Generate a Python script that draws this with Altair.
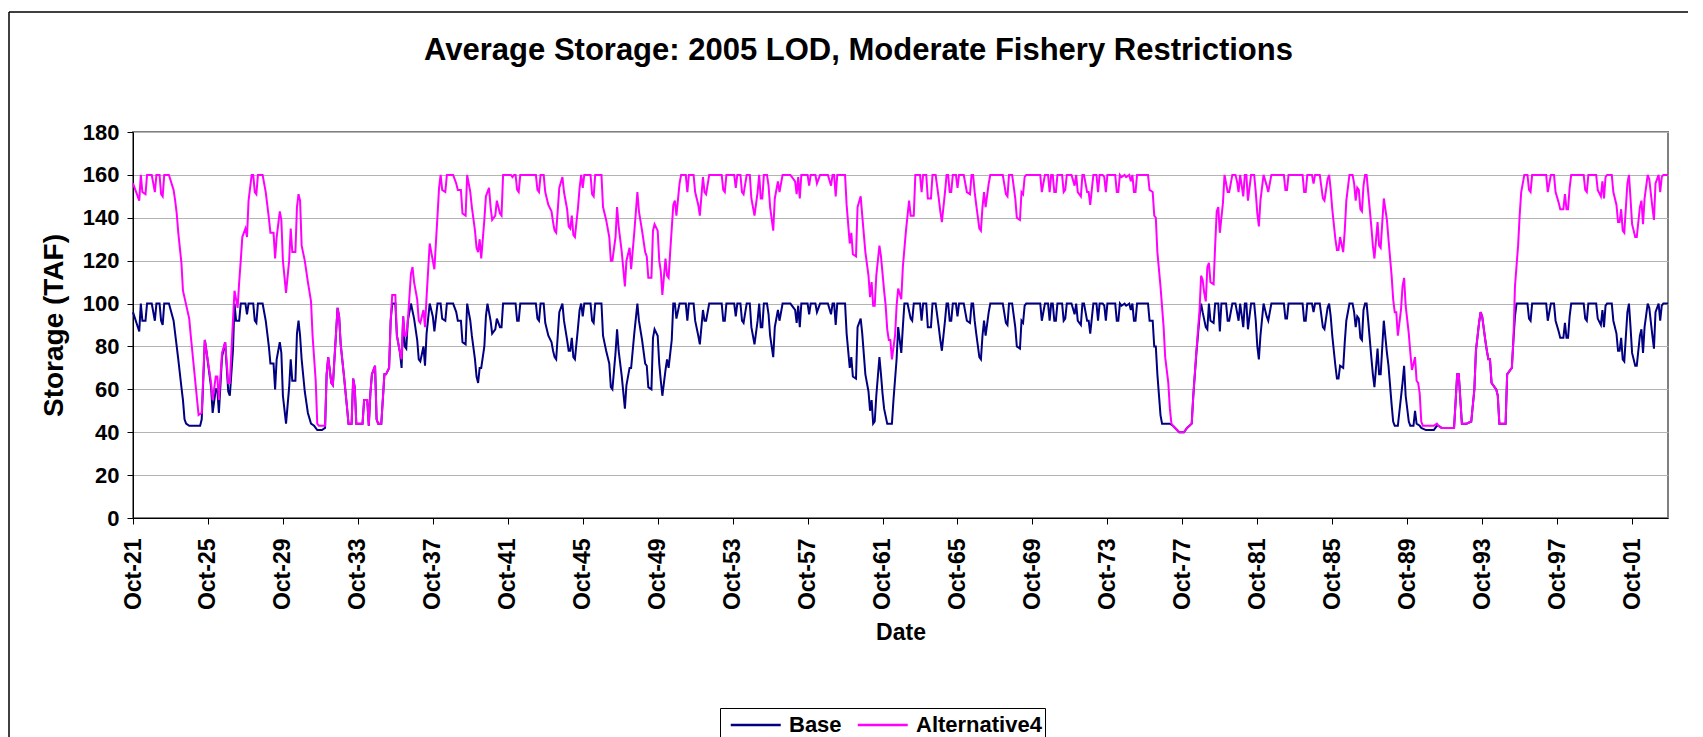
import altair as alt
import pandas as pd

# Month index counted from Oct-1921 (0) to Sep-2003 (983); storage in TAF
base_month = [
    0, 4, 5, 6, 8, 9, 12, 14, 15, 17, 18, 19, 20, 23, 26, 27, 29, 31, 32, 33, 34, 36, 43, 44, 46, 47, 50, 51, 53, 54,
    55, 57, 59, 61, 62, 64, 65, 66, 68, 69, 72, 73, 74, 77, 78, 79, 80, 83, 85, 87, 88, 90, 91, 92, 94, 95, 96, 98, 100, 101,
    102, 104, 105, 106, 107, 108, 110, 112, 114, 116, 118, 121, 123, 124, 125, 127, 128, 130, 131, 132, 133, 135, 137, 138, 140, 141, 142, 143, 147, 148,
    150, 151, 152, 153, 155, 156, 157, 159, 161, 162, 164, 165, 166, 168, 169, 171, 172, 173, 174, 175, 176, 178, 180, 182, 183, 184, 186, 187, 188, 190,
    192, 193, 195, 197, 198, 200, 201, 205, 207, 208, 210, 211, 213, 214, 216, 217, 219, 220, 221, 222, 223, 225, 226, 227, 229, 230, 232, 233, 235, 236,
    237, 245, 246, 247,
    248, 258, 259, 260, 261, 263, 264, 266, 268, 269, 270, 271, 273, 275, 276, 278, 279, 280, 281, 282, 283, 285, 286, 287, 288, 289, 293, 294, 295, 296,
    300, 301, 303, 305, 306, 307, 309, 310, 311, 313, 315, 316, 318, 319, 321, 323, 324, 326, 328, 329, 330, 332, 333, 334, 336, 337, 338, 339, 341, 342,
    343, 345, 346, 347, 348, 350, 354, 355, 356, 359, 360, 362, 363, 365, 366, 367, 369, 377, 378, 379, 380,
    385, 386, 387, 389, 390, 391, 393, 395, 396, 398, 400, 401, 402, 403, 404, 406, 407, 408, 410, 411, 413, 414, 416, 421, 424, 425, 426, 427, 428, 432,
    433, 434, 437, 438, 440, 445, 447, 448, 449, 450, 451, 456, 457, 459, 460, 461, 463, 464, 466, 467, 469, 471, 472, 473, 474, 475, 476, 478, 479, 480,
    481, 483, 486, 487, 489, 490, 492, 493, 494, 496, 498, 499, 500, 502,
    504, 505, 506, 508, 509, 511, 512, 514, 516, 517, 518, 520, 521, 522, 523, 524, 525, 527, 528, 529, 532, 534, 536, 537, 538, 539, 540, 542, 543, 544,
    545, 546, 548, 549, 557, 559, 560, 561, 563, 565, 566, 568, 569, 570, 571, 572, 581, 582, 584, 586, 587, 588, 589, 590, 591, 592, 595, 596, 597, 598,
    601, 603, 604, 605, 607, 608, 609, 611, 612, 613, 615, 617, 618, 619, 621, 622, 623, 624, 629, 630, 631, 632, 633, 635, 636, 638,
    639, 640, 641, 642, 643, 650, 651, 653, 654, 655, 656, 658, 659, 664, 666, 670, 673, 675, 678, 679, 681, 683, 684, 685, 687, 688, 689, 690, 692, 693,
    695, 696, 697, 700, 701, 702, 704, 706, 707, 708, 709, 711, 712, 713, 714, 716, 718, 719, 720, 721, 722, 724, 726, 727, 729, 737, 738, 739, 740, 749,
    750, 751, 752, 755, 756, 757, 760, 762, 763, 765,
    766, 767, 768, 770, 771, 772, 773, 775, 776, 777, 779, 781, 782, 783, 784, 785, 786, 787, 788, 789, 790, 791, 793, 794, 795, 797, 798, 799, 801, 803,
    804, 806, 807, 808, 810, 813, 814, 815, 817, 818, 820, 821, 822, 824, 825, 828, 833, 835, 836, 838, 839, 846, 848, 849, 851, 854, 857, 859, 860, 862,
    863, 864, 866, 867, 868, 869, 870, 871, 873, 874, 875, 879, 880, 881, 883, 884, 885, 886, 893, 894, 895, 896, 905, 906, 908, 910, 911, 913, 914, 916,
    917, 918, 919, 920, 921, 929, 930, 931, 932, 937, 938, 940, 941, 942, 943, 944, 947, 948, 950, 951, 952, 953, 954, 955, 957, 958, 959, 960, 962, 963,
    965, 966, 967, 968, 970, 971, 973, 974, 975, 977, 978, 979, 980, 983,
]
base_storage = [
    96, 87, 100, 92, 92, 100, 100, 92, 100, 100, 92, 90, 100, 100, 92, 86, 74, 61, 55, 46, 44, 43, 43, 46, 83, 78, 61, 49, 60, 60,
    49, 75, 82, 59, 57, 78, 100, 92, 92, 100, 100, 95, 100, 100, 92, 91, 100, 100, 92, 80, 72, 72, 60, 74, 82, 77, 57, 44, 61, 74,
    64, 64, 86, 92, 85, 74, 59, 49, 44, 43, 41, 41, 42, 67, 75, 63, 62, 86, 98, 94, 81, 67, 52, 44, 44, 65, 61, 44, 44, 55,
    55, 43, 58, 67, 71, 46, 44, 44, 67, 67, 70, 92, 100, 100, 85, 77, 70, 94, 80, 79, 92, 100, 93, 83, 74, 73, 80, 71, 86, 100,
    94, 87, 100, 100, 93, 92, 100, 100, 96, 92, 92, 82, 81, 100, 92, 85, 74, 66, 63, 70, 70, 80, 94, 100, 92, 86, 88, 93, 89, 89,
    100, 100, 92, 92,
    100, 100, 93, 92, 100, 100, 91, 85, 82, 78, 75, 74, 96, 100, 92, 83, 78, 78, 84, 75, 74, 89, 97, 100, 94, 100, 100, 92, 91, 100,
    100, 85, 78, 72, 61, 60, 77, 88, 78, 66, 51, 62, 70, 70, 86, 100, 92, 83, 72, 71, 61, 60, 84, 88, 85, 72, 64, 57, 69, 74,
    70, 83, 100, 100, 93, 100, 100, 92, 100, 100, 92, 85, 81, 97, 92, 92, 100, 100, 92, 92, 100,
    100, 94, 100, 100, 92, 91, 100, 100, 89, 81, 92, 100, 89, 89, 100, 100, 95, 85, 75, 89, 97, 92, 100, 100, 97, 91, 99, 89, 100, 100,
    95, 100, 100, 96, 100, 100, 95, 100, 100, 90, 100, 100, 86, 70, 75, 66, 65, 89, 93, 86, 67, 59, 50, 55, 44, 45, 57, 75, 67, 58,
    51, 44, 44, 55, 74, 89, 77, 89, 100, 100, 93, 92, 100, 100,
    100, 92, 100, 100, 89, 89, 100, 100, 89, 83, 78, 92, 100, 100, 92, 92, 100, 100, 94, 100, 100, 92, 91, 100, 100, 92, 86, 75, 74, 85,
    92, 85, 96, 100, 100, 91, 90, 100, 100, 89, 80, 79, 92, 91, 99, 100, 100, 92, 100, 100, 92, 100, 100, 92, 92, 100, 100, 92, 93, 100,
    100, 95, 100, 92, 90, 100, 100, 92, 92, 86, 100, 100, 92, 100, 100, 99, 92, 100, 100, 92, 92, 100, 99, 100, 99, 100,
    97, 100, 92, 92, 100, 100, 92, 92, 80, 80, 67, 48, 44, 44, 43, 40, 40, 42, 44, 57, 77, 94, 100, 96, 89, 88, 100, 92, 91, 100,
    100, 87, 100, 100, 92, 92, 100, 100, 96, 92, 100, 89, 100, 100, 88, 100, 100, 92, 80, 74, 85, 100, 94, 92, 100, 100, 93, 93, 100, 100,
    92, 92, 100, 100, 96, 100, 100, 89, 88, 98,
    100, 94, 85, 71, 65, 65, 71, 70, 82, 92, 100, 100, 96, 89, 94, 93, 84, 83, 97, 100, 100, 92, 75, 67, 61, 79, 67, 67, 92, 77,
    71, 53, 45, 43, 43, 63, 71, 57, 45, 43, 43, 50, 44, 43, 42, 41, 41, 43, 43, 42, 42, 42, 67, 67, 44, 44, 45, 60, 78, 91,
    96, 94, 83, 78, 74, 74, 63, 62, 60, 57, 44, 44, 67, 68, 70, 83, 94, 100, 100, 93, 92, 100, 100, 92, 100, 100, 92, 87, 84, 84,
    91, 84, 84, 94, 100, 100, 93, 92, 100, 100, 93, 90, 97, 89, 99, 100, 100, 92, 86, 78, 78, 84, 74, 73, 96, 100, 89, 77, 71, 71,
    85, 88, 77, 89, 100, 98, 85, 79, 96, 100, 92, 99, 100, 100,
]

alt_month = [
    0, 4, 5, 6, 8, 9, 12, 14, 15, 17, 18, 19, 20, 23, 26, 27, 28, 29, 31, 32, 36, 37, 42, 44, 46, 47, 50, 51, 53, 54,
    55, 57, 59, 61, 62, 64, 65, 67, 68, 69, 70, 72, 73, 74, 76, 77, 78, 79, 80, 83, 85, 87, 88, 90, 91, 92, 94, 95, 96, 98,
    100, 101, 102, 104, 105, 106, 107, 108, 110, 112, 114, 115, 117, 118, 119, 123, 124, 125, 127, 128, 130, 131, 132, 133, 135, 137, 138, 140, 141, 142,
    143, 147, 148, 150, 151, 152, 153, 155, 156, 157, 159, 161, 162, 164, 165, 166, 168, 169, 171, 172, 173, 174, 175, 176, 178, 179, 180, 182, 183, 184,
    186, 187, 188, 190, 192, 193, 195, 196, 197, 198, 200, 201, 205, 207, 208, 210, 211, 213, 214, 216, 217, 219, 220, 221, 222, 223, 225, 226, 228, 229,
    230, 232, 233, 235, 236, 237, 242, 243, 244, 245, 246, 247,
    248, 258, 259, 260, 261, 263, 264, 266, 268, 269, 270, 271, 273, 275, 276, 278, 279, 280, 281, 282, 283, 285, 286, 287, 288, 289, 293, 294, 295, 296,
    300, 301, 303, 305, 306, 307, 309, 310, 311, 313, 315, 316, 318, 319, 321, 323, 324, 326, 328, 329, 330, 332, 333, 334, 336, 337, 338, 339, 341, 342,
    343, 344, 346, 347, 348, 350, 351, 354, 355, 356, 359, 360, 362, 363, 365, 366, 367, 369, 377, 378, 379, 380,
    385, 386, 387, 389, 390, 391, 393, 395, 396, 398, 400, 401, 402, 403, 404, 406, 407, 408, 410, 411, 413, 414, 416, 421, 424, 425, 426, 427, 428, 432,
    433, 434, 437, 438, 440, 445, 447, 448, 449, 450, 451, 456, 457, 459, 460, 461, 463, 464, 466, 467, 469, 471, 472, 473, 474, 475, 476, 478, 479, 481,
    482, 483, 484, 485, 486, 488, 489, 490, 492, 493, 495, 497, 498, 500, 501, 502,
    504, 505, 506, 508, 509, 511, 512, 514, 516, 517, 518, 520, 521, 522, 523, 524, 525, 527, 528, 529, 532, 534, 536, 537, 538, 539, 540, 542, 543, 544,
    545, 546, 548, 549, 557, 559, 560, 561, 563, 565, 566, 568, 569, 570, 571, 572, 581, 582, 584, 586, 587, 588, 589, 590, 591, 592, 595, 596, 597, 598,
    601, 603, 604, 605, 607, 608, 609, 611, 612, 613, 615, 617, 618, 619, 621, 622, 623, 624, 629, 630, 631, 632, 633, 635, 636, 638,
    639, 640, 641, 642, 643, 650, 651, 653, 654, 655, 656, 658, 660, 661, 663, 664, 665, 666, 670, 673, 675, 678, 679, 681, 683, 684, 685, 686, 687, 688,
    689, 690, 692, 693, 694, 695, 696, 698, 699, 701, 702, 704, 706, 707, 708, 709, 711, 712, 713, 714, 716, 718, 719, 720, 721, 722, 724, 726, 727, 729,
    737, 738, 739, 740, 749, 750, 751, 752, 755, 756, 757, 760, 762, 763, 765,
    766, 767, 768, 770, 771, 772, 773, 775, 776, 777, 779, 781, 782, 783, 784, 785, 786, 787, 788, 789, 790, 791, 793, 794, 795, 797, 798, 799, 801, 803,
    804, 806, 807, 808, 809, 810, 812, 813, 814, 815, 817, 818, 819, 821, 822, 823, 824, 825, 826, 833, 835, 836, 838, 839, 846, 848, 849, 851, 854, 857,
    859, 860, 862, 863, 864, 866, 867, 868, 869, 870, 871, 873, 874, 875, 879, 880, 881, 883, 884, 885, 887, 888, 889, 891, 893, 894, 895, 896, 905, 906,
    908, 910, 911, 913, 914, 916, 917, 918, 919, 920, 921, 929, 930, 931, 932, 937, 938, 940, 941, 942, 943, 944, 947, 948, 950, 951, 952, 953, 954, 955,
    957, 958, 959, 960, 962, 963, 965, 966, 967, 968, 970, 971, 973, 974, 975, 977, 978, 979, 980, 983,
]
alt_storage = [
    156, 148, 160, 152, 151, 160, 160, 152, 160, 160, 151, 150, 160, 160, 153, 148, 142, 133, 119, 106, 93, 85, 48, 49, 83, 78, 63, 55, 66, 66,
    55, 77, 82, 63, 63, 92, 106, 98, 110, 120, 131, 135, 131, 148, 160, 160, 152, 151, 160, 160, 152, 140, 133, 133, 121, 131, 143, 139, 120, 105,
    120, 135, 124, 124, 145, 151, 148, 127, 120, 110, 101, 85, 64, 44, 43, 43, 67, 75, 63, 62, 86, 98, 94, 81, 67, 52, 44, 44, 65, 61,
    44, 44, 55, 55, 43, 58, 67, 71, 46, 44, 44, 67, 67, 70, 92, 104, 104, 85, 77, 74, 94, 85, 85, 92, 114, 117, 110, 102, 92, 91,
    97, 89, 103, 128, 120, 116, 141, 154, 160, 153, 152, 160, 160, 156, 153, 153, 142, 141, 160, 152, 145, 134, 126, 124, 130, 121, 139, 150, 154, 145,
    139, 141, 148, 142, 141, 160, 160, 159, 160, 160, 153, 152,
    160, 160, 153, 152, 160, 160, 152, 146, 143, 138, 134, 133, 154, 159, 152, 144, 136, 135, 141, 132, 131, 145, 154, 160, 154, 160, 160, 151, 150, 160,
    160, 145, 139, 131, 120, 120, 131, 145, 136, 124, 108, 120, 126, 116, 133, 152, 143, 134, 124, 122, 112, 112, 134, 137, 134, 120, 115, 104, 121, 113,
    112, 124, 146, 148, 141, 156, 160, 160, 152, 160, 160, 152, 146, 141, 159, 152, 151, 160, 160, 153, 152, 160,
    160, 154, 160, 160, 152, 151, 160, 160, 149, 141, 152, 160, 149, 149, 160, 160, 155, 145, 134, 149, 157, 152, 160, 160, 157, 151, 159, 149, 160, 160,
    155, 160, 160, 156, 160, 160, 155, 160, 160, 150, 160, 160, 146, 128, 133, 123, 122, 145, 150, 141, 124, 113, 103, 110, 99, 99, 113, 127, 122, 106,
    99, 88, 83, 83, 74, 85, 99, 107, 102, 117, 134, 148, 141, 141, 160, 160,
    160, 152, 160, 160, 149, 149, 160, 160, 149, 143, 138, 152, 160, 160, 152, 152, 160, 160, 154, 160, 160, 152, 151, 160, 160, 152, 146, 135, 134, 145,
    152, 145, 156, 160, 160, 151, 150, 160, 160, 149, 140, 139, 152, 151, 159, 160, 160, 152, 160, 160, 152, 160, 160, 152, 152, 160, 160, 152, 153, 160,
    160, 155, 160, 152, 150, 160, 160, 152, 152, 146, 160, 160, 152, 160, 160, 159, 152, 160, 160, 152, 152, 160, 159, 160, 159, 160,
    157, 160, 152, 152, 160, 160, 153, 152, 141, 140, 124, 108, 89, 75, 63, 51, 44, 43, 40, 40, 42, 44, 57, 78, 97, 113, 111, 105, 101, 117,
    119, 110, 109, 127, 143, 145, 133, 147, 160, 152, 152, 160, 160, 157, 152, 160, 150, 160, 160, 148, 160, 160, 152, 142, 136, 148, 160, 155, 152, 160,
    160, 153, 153, 160, 160, 152, 152, 160, 160, 156, 160, 160, 149, 148, 158,
    160, 153, 144, 130, 125, 125, 131, 124, 134, 148, 160, 160, 156, 148, 154, 153, 144, 143, 155, 160, 160, 152, 136, 127, 121, 138, 127, 126, 149, 139,
    130, 113, 102, 96, 96, 85, 97, 108, 112, 99, 86, 77, 69, 75, 64, 63, 58, 45, 43, 43, 44, 43, 42, 42, 42, 67, 67, 44, 44, 45,
    60, 78, 91, 96, 94, 83, 78, 74, 74, 63, 62, 60, 57, 44, 44, 67, 68, 70, 83, 108, 127, 141, 152, 160, 160, 153, 152, 160, 160, 152,
    160, 160, 152, 147, 144, 144, 151, 144, 144, 154, 160, 160, 153, 152, 160, 160, 153, 150, 157, 149, 159, 160, 160, 152, 146, 138, 138, 144, 134, 133,
    156, 160, 149, 137, 131, 131, 145, 148, 137, 149, 160, 158, 145, 139, 156, 160, 152, 159, 160, 160,
]

series_names = ["Base", "Alternative4"]
series_colors = ["#000080", "#FF00FF"]
tick_months = list(range(0, 961, 48))
tick_labels = ["Oct-21", "Oct-25", "Oct-29", "Oct-33", "Oct-37", "Oct-41", "Oct-45", "Oct-49", "Oct-53", "Oct-57",
               "Oct-61", "Oct-65", "Oct-69", "Oct-73", "Oct-77", "Oct-81", "Oct-85", "Oct-89", "Oct-93", "Oct-97", "Oct-01"]
y_ticks = list(range(0, 181, 20))

base_df = pd.DataFrame({"month": base_month, "storage": base_storage, "series": "Base"})
alt_df = pd.DataFrame({"month": alt_month, "storage": alt_storage, "series": "Alternative4"})

FONT = "Liberation Sans"
label_expr = "[" + ",".join("'" + t + "'" for t in tick_labels) + "][round(datum.value / 48)]"

x_enc = alt.X("month:Q", scale=alt.Scale(domain=[0, 983], nice=False, zero=False),
              axis=alt.Axis(values=tick_months, labelExpr=label_expr, labelAngle=270, grid=False,
                            title="Date", labelFontSize=23, labelFontWeight="bold", labelFont=FONT,
                            titleFontSize=23, titleFont=FONT, titleFontWeight="bold", titlePadding=12,
                            tickSize=6, labelPadding=14, domainColor="black", tickColor="black",
                            labelColor="black", titleColor="black"))
y_enc = alt.Y("storage:Q", scale=alt.Scale(domain=[0, 180], nice=False),
              axis=alt.Axis(values=y_ticks, grid=True, gridColor="#b4b4b4", gridWidth=1,
                            title="Storage (TAF)", labelFontSize=22, labelFontWeight="bold", labelFont=FONT,
                            titleFontSize=28, titleFont=FONT, titleFontWeight="bold", titlePadding=14,
                            tickSize=6, labelPadding=8, domainColor="black", tickColor="black",
                            labelColor="black", titleColor="black"))
color_enc = alt.Color("series:N", scale=alt.Scale(domain=series_names, range=series_colors),
                      legend=alt.Legend(title=None, orient="none", legendX=587, legendY=576,
                                        direction="horizontal", strokeColor="black", fillColor="white",
                                        padding=3, symbolType="M-0.5,0L3.5,0", symbolSize=625,
                                        symbolStrokeWidth=2.5, labelFontSize=22, labelFontWeight="bold",
                                        labelFont=FONT, labelColor="black", columnPadding=8,
                                        labelOffset=38))

base_line = alt.Chart(base_df).mark_line(strokeWidth=2).encode(x=x_enc, y=y_enc, color=color_enc)
alt_line = alt.Chart(alt_df).mark_line(strokeWidth=2).encode(x=x_enc, y=y_enc, color=color_enc)

frame_df = pd.DataFrame({"k": [0]})
left_border = alt.Chart(frame_df).mark_rule(color="black", strokeWidth=1.5).encode(
    x=alt.value(-124), y=alt.value(-120), y2=alt.value(620))
top_border = alt.Chart(frame_df).mark_rule(color="black", strokeWidth=1.5).encode(
    x=alt.value(-124), x2=alt.value(1570), y=alt.value(-120))

chart = alt.layer(left_border, top_border, base_line, alt_line).properties(
    width=1535, height=386,
    autosize=alt.AutoSizeParams(type="none"),
    padding={"left": 125, "top": 124, "right": 20, "bottom": 219},
    background="white",
    title=alt.TitleParams("Average Storage: 2005 LOD, Moderate Fishery Restrictions", fontSize=31, font=FONT,
                          fontWeight="bold", anchor="middle", dx=-42, offset=-34, dy=46,
                          baseline="alphabetic", color="black"),
).configure_view(stroke="#808080", strokeWidth=2)

chart.save("out.html", embed_options={"renderer": "svg", "actions": False})
